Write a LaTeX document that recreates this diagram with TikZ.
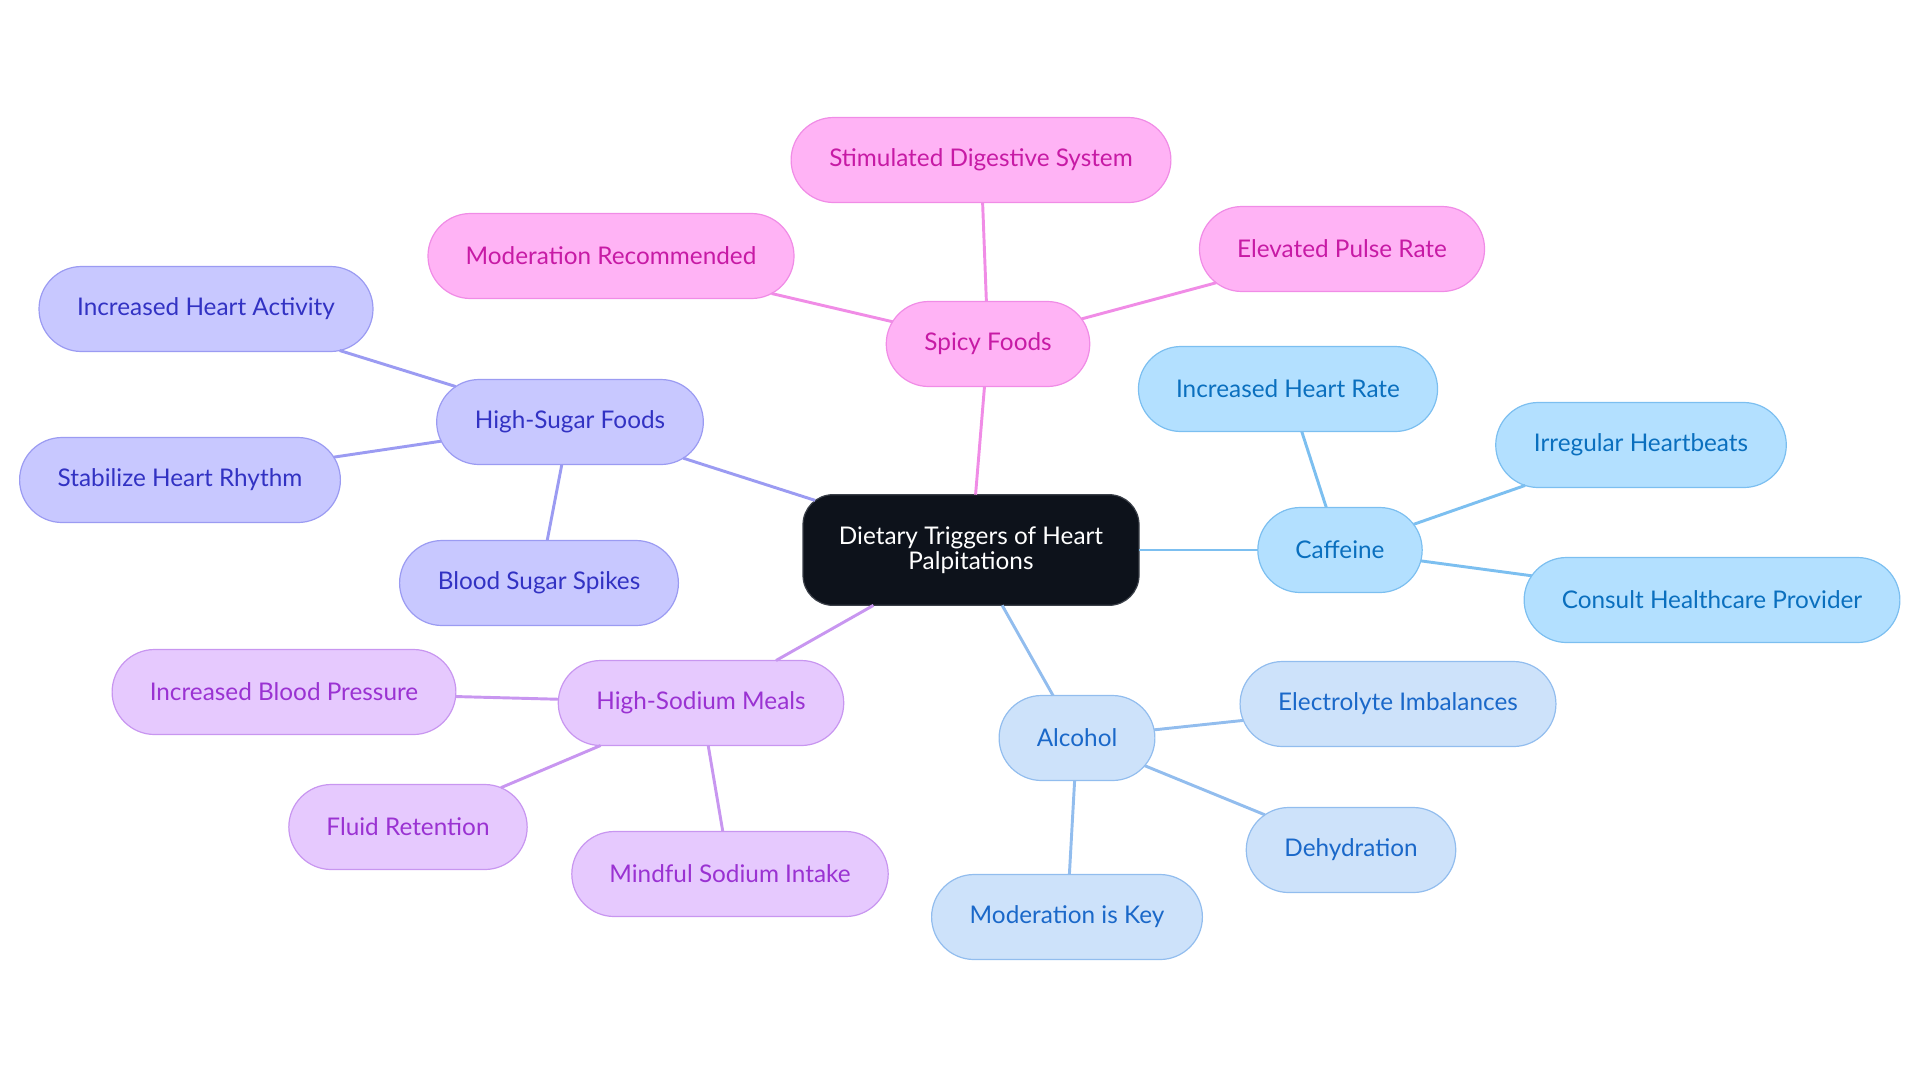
\documentclass[tikz,border=0pt]{standalone}
\usepackage{fontspec}
\setmainfont{Lato}
\usepackage{xcolor}
\usepackage{tikz}
\usepackage{tkz-graph}
\usetikzlibrary{shapes.misc}
\definecolor{cenfill}{HTML}{0D121B}
\definecolor{cenline}{HTML}{3A3F48}
\definecolor{spfill}{HTML}{FFB3F5}
\definecolor{spline}{HTML}{F08CE6}
\definecolor{sptext}{HTML}{C71AA5}
\definecolor{sgfill}{HTML}{C8C8FF}
\definecolor{sgline}{HTML}{9B9BF2}
\definecolor{sgtext}{HTML}{3232C3}
\definecolor{cffill}{HTML}{B3E0FF}
\definecolor{cfline}{HTML}{7CBFF0}
\definecolor{cftext}{HTML}{0A6FBE}
\definecolor{alfill}{HTML}{CDE2FA}
\definecolor{alline}{HTML}{92BDEE}
\definecolor{altext}{HTML}{1A68C9}
\definecolor{sdfill}{HTML}{E6C9FE}
\definecolor{sdline}{HTML}{C896F0}
\definecolor{sdtext}{HTML}{9A32D2}
\tikzset{
  txt/.style={font=\fontsize{18.25}{19}\selectfont},
  leaf/.style={rounded rectangle, draw=#1line, fill=#1fill, text=#1text, txt,
    line width=0.9pt, minimum height=63.75pt, inner xsep=27.5pt},
  link/.style={draw=#1line, line width=2.2pt}
}

\begin{document}
\begin{tikzpicture}[x=0.75pt,y=-0.75pt]
\useasboundingbox (0,0) rectangle (1920,1083);
\GraphInit[vstyle=Normal]
\tikzset{VertexStyle/.style={draw=cenline, fill=cenfill, text=white, txt, align=center,
  rounded corners=22.5pt, minimum width=252pt, minimum height=83pt, line width=0.9pt}}
\Vertex[x=971,y=550,L={Dietary Triggers of Heart\\Palpitations}]{c}
\tikzset{VertexStyle/.style={leaf=sp}}
\Vertex[x=988,y=344,L={Spicy Foods}]{sp}
\Vertex[x=981,y=160,L={Stimulated Digestive System}]{spu}
\Vertex[x=611,y=256,L={Moderation Recommended}]{spl}
\Vertex[x=1342,y=249,L={Elevated Pulse Rate}]{spr}
\tikzset{VertexStyle/.style={leaf=sg}}
\Vertex[x=570,y=422,L={High-Sugar Foods}]{sg}
\Vertex[x=206,y=309,L={Increased Heart Activity}]{sgu}
\Vertex[x=180,y=480,L={Stabilize Heart Rhythm}]{sgl}
\Vertex[x=539,y=583,L={Blood Sugar Spikes}]{sgd}
\tikzset{VertexStyle/.style={leaf=cf}}
\Vertex[x=1340,y=550,L={Caffeine}]{cf}
\Vertex[x=1288,y=389,L={Increased Heart Rate}]{cfu}
\Vertex[x=1641,y=445,L={Irregular Heartbeats}]{cfr}
\Vertex[x=1712,y=600,L={Consult Healthcare Provider}]{cfd}
\tikzset{VertexStyle/.style={leaf=al}}
\Vertex[x=1077,y=738,L={Alcohol}]{al}
\Vertex[x=1398,y=704,L={Electrolyte Imbalances}]{alr}
\Vertex[x=1351,y=850,L={Dehydration}]{ald}
\Vertex[x=1067,y=917,L={Moderation is Key}]{all}
\tikzset{VertexStyle/.style={leaf=sd}}
\Vertex[x=701,y=703,L={High-Sodium Meals}]{sd}
\Vertex[x=284,y=692,L={Increased Blood Pressure}]{sdl}
\Vertex[x=408,y=827,L={Fluid Retention}]{sdd}
\Vertex[x=730,y=874,L={Mindful Sodium Intake}]{sdr}
\tikzset{EdgeStyle/.style={link=sp}}
\Edge(c)(sp)
\Edge(sp)(spu)
\Edge(sp)(spl)
\Edge(sp)(spr)
\tikzset{EdgeStyle/.style={link=sg}}
\Edge[style={shorten <=-9.5pt}](c)(sg)
\Edge(sg)(sgu)
\Edge(sg)(sgl)
\Edge(sg)(sgd)
\tikzset{EdgeStyle/.style={link=cf}}
\Edge(c)(cf)
\Edge(cf)(cfu)
\Edge(cf)(cfr)
\Edge(cf)(cfd)
\tikzset{EdgeStyle/.style={link=al}}
\Edge(c)(al)
\Edge(al)(alr)
\Edge(al)(ald)
\Edge(al)(all)
\tikzset{EdgeStyle/.style={link=sd}}
\Edge(c)(sd)
\Edge(sd)(sdl)
\Edge(sd)(sdd)
\Edge(sd)(sdr)
\end{tikzpicture}
\end{document}
